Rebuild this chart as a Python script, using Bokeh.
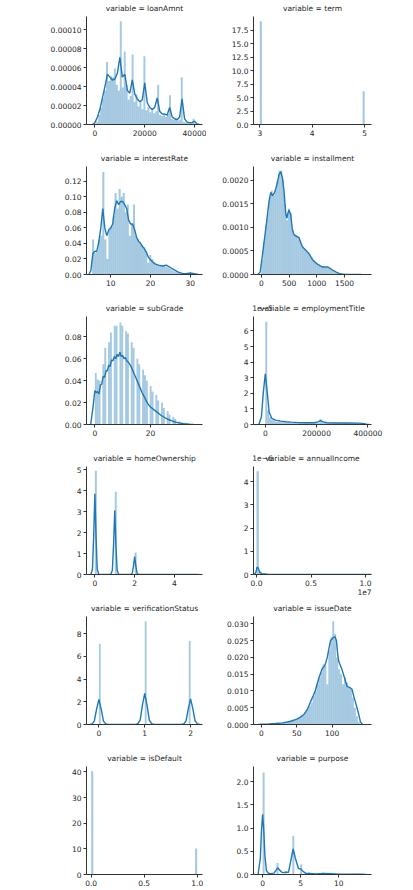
import numpy as np
from bokeh.plotting import figure
from bokeh.models import Range1d, FixedTicker, PrintfTickFormatter, LinearAxis
from bokeh.layouts import column, row
from bokeh.embed import file_html
from bokeh.resources import INLINE

BLUE = "#1f77b4"
FONT = "DejaVu Sans"
INK = "#262626"

# ---------------- loanAmnt (densities in units of 1e-5) ----------------
loan_range = (500, 40000)
loan_hist_e5 = [0.3, 1.0, 1.8, 2.8, 3.6, 6.6, 4.6, 5.1, 5.0, 5.9,
                4.2, 3.6, 10.9, 3.9, 7.7, 4.2, 2.6, 3.0, 7.4, 2.4,
                3.2, 1.9, 2.5, 1.6, 7.2, 1.5, 1.8, 1.3, 1.6, 1.2,
                1.4, 4.2, 1.0, 0.9, 1.2, 0.8, 1.1, 3.1, 0.6, 0.5,
                0.7, 0.4, 0.5, 5.0, 0.3, 0.2, 0.2, 0.2, 0.2, 0.6]
loan_kde_x = [-1000, 0, 1000, 2000, 3000, 4000, 5000, 6000, 7000, 8000, 9000,
              10000, 11000, 12000, 13000, 14000, 15000, 16000, 17000, 18000, 19000,
              20000, 21000, 22000, 23000, 24000, 25000, 26000, 27000, 28000, 29000,
              30000, 31000, 32000, 33000, 34000, 35000, 36000, 37000, 38000, 39000,
              40000, 41000, 42000]
loan_kde_e5 = [0.0, 0.2, 0.8, 1.6, 2.8, 4.0, 5.3, 5.0, 4.7, 4.8, 5.4,
               7.1, 5.0, 5.3, 3.6, 3.3, 4.7, 3.2, 2.7, 2.4, 2.6,
               4.4, 2.3, 1.8, 1.6, 1.8, 2.8, 1.4, 1.1, 1.1, 1.0,
               1.8, 0.8, 0.6, 0.5, 0.8, 2.7, 0.6, 0.25, 0.2, 0.2,
               0.35, 0.05, 0.0]

# ---------------- term ----------------
term_range = (3, 5)
term_values = [3, 5]
term_density = [19.2, 6.2]

# ---------------- interestRate ----------------
rate_range = (5.31, 31.0)
rate_hist = [0.045, 0.028, 0.030, 0.045, 0.050, 0.132, 0.045, 0.020, 0.060, 0.062,
             0.075, 0.105, 0.085, 0.110, 0.100, 0.105, 0.080, 0.090, 0.050, 0.065,
             0.090, 0.050, 0.045, 0.042, 0.038, 0.035, 0.030, 0.015, 0.025, 0.020,
             0.016, 0.013, 0.012, 0.011, 0.012, 0.011, 0.010, 0.009, 0.007, 0.005,
             0.004, 0.003, 0.002, 0.002, 0.0015, 0.001, 0.001, 0.0015, 0.002, 0.001]
rate_kde_x = [4.5, 5, 5.5, 6, 6.5, 7, 7.5, 8, 8.5, 9,
              9.5, 10, 10.5, 11, 11.5, 12, 12.5, 13, 13.5, 14,
              14.5, 15, 15.5, 16, 16.5, 17, 17.5, 18, 18.5, 19,
              19.5, 20, 21, 22, 23, 24, 25, 26, 27, 28, 29, 30, 31, 32]
rate_kde = [0, 0.005, 0.027, 0.030, 0.030, 0.042, 0.060, 0.085, 0.060, 0.050,
            0.057, 0.060, 0.065, 0.085, 0.095, 0.090, 0.094, 0.094, 0.090, 0.085,
            0.070, 0.065, 0.065, 0.058, 0.048, 0.043, 0.040, 0.036, 0.033, 0.028,
            0.022, 0.019, 0.014, 0.012, 0.011, 0.012, 0.009, 0.006, 0.003, 0.0015,
            0.001, 0.002, 0.001, 0]

# ---------------- installment (densities in units of 1e-3) ----------------
inst_range = (0, 1715)
inst_hist_e3 = [0.3, 0.7, 1.05, 1.3, 1.65, 1.78, 1.68, 1.8, 1.98, 2.2,
                2.2, 2.0, 1.5, 1.15, 1.4, 1.3, 0.95, 0.85, 0.83, 0.8,
                0.72, 0.6, 0.56, 0.52, 0.47, 0.42, 0.36, 0.3, 0.26, 0.22,
                0.19, 0.17, 0.16, 0.16, 0.16, 0.13, 0.1, 0.08, 0.05, 0.035,
                0.02, 0.012, 0.008, 0.006, 0.005, 0.004, 0.003, 0.003, 0.002, 0.002]
inst_kde_x = [-60, -20, 20, 60, 100, 140, 170, 200, 230, 260,
              290, 320, 350, 380, 410, 440, 460, 480, 500, 530,
              560, 590, 620, 650, 680, 710, 740, 770, 800, 830,
              860, 890, 920, 960, 1000, 1040, 1080, 1120, 1160, 1200,
              1250, 1300, 1350, 1400, 1450, 1500, 1600, 1700, 1800]
inst_kde_e3 = [0, 0.05, 0.4, 0.78, 1.15, 1.55, 1.74, 1.67, 1.72, 1.81,
               1.95, 2.12, 2.18, 2.06, 1.76, 1.3, 1.19, 1.3, 1.37, 1.27,
               0.95, 0.84, 0.82, 0.8, 0.78, 0.68, 0.59, 0.55, 0.52, 0.48,
               0.44, 0.38, 0.32, 0.27, 0.23, 0.2, 0.17, 0.16, 0.16, 0.16,
               0.12, 0.08, 0.05, 0.025, 0.01, 0.006, 0.003, 0.001, 0]

# ---------------- subGrade ----------------
grade_range = (0, 34)
grade_values = list(range(35))
grade_density = [0.047, 0.041, 0.040, 0.055, 0.070, 0.075, 0.084, 0.090, 0.090, 0.093,
                 0.090, 0.085, 0.083, 0.075, 0.070, 0.060, 0.055, 0.050, 0.045, 0.040,
                 0.035, 0.030, 0.027, 0.022, 0.020, 0.015, 0.012, 0.009, 0.007, 0.005,
                 0.003, 0.002, 0.0015, 0.001, 0.0005]
grade_kde_x = [-1.5, -0.7, 0, 0.5, 1, 1.5, 2, 2.5, 3, 3.5, 4, 4.5, 5, 5.5, 6, 6.5, 7,
               7.5, 8, 8.5, 9, 9.5, 10, 10.5, 11, 11.5, 12, 12.5, 13, 13.5, 14, 15,
               16, 17, 18, 19, 20, 22, 24, 26, 28, 30, 32, 34, 35.5]
grade_kde = [0, 0.015, 0.031, 0.029, 0.030, 0.028, 0.036, 0.037, 0.044, 0.043, 0.049,
             0.049, 0.054, 0.053, 0.059, 0.058, 0.062, 0.060, 0.064, 0.062, 0.066,
             0.062, 0.063, 0.060, 0.061, 0.058, 0.057, 0.055, 0.053, 0.050, 0.047,
             0.041, 0.035, 0.029, 0.024, 0.019, 0.016, 0.012, 0.008, 0.005, 0.003,
             0.0015, 0.0008, 0.0003, 0]

# ---------------- employmentTitle (densities in units of 1e-5) ----------------
emp_range = (0, 378000)
emp_hist_e5 = [6.6, 0.9, 0.45, 0.3, 0.25, 0.2, 0.18, 0.17, 0.16, 0.15,
               0.14, 0.14, 0.13, 0.13, 0.12, 0.12, 0.12, 0.11, 0.11, 0.11,
               0.1, 0.1, 0.1, 0.1, 0.1, 0.1, 0.1, 0.12, 0.35, 0.15,
               0.1, 0.1, 0.1, 0.1, 0.1, 0.1, 0.1, 0.1, 0.1, 0.1,
               0.1, 0.1, 0.09, 0.09, 0.09, 0.09, 0.09, 0.08, 0.08, 0.08]
emp_kde_x = [-25000, -15000, -8000, 0, 8000, 15000, 25000, 40000, 60000, 80000,
             100000, 130000, 160000, 190000, 205000, 215000, 225000, 240000,
             280000, 320000, 360000, 380000, 395000, 405000]
emp_kde_e5 = [0, 0.5, 2.0, 3.25, 2.0, 0.8, 0.4, 0.28, 0.22, 0.18,
              0.15, 0.12, 0.11, 0.11, 0.17, 0.25, 0.17, 0.11,
              0.1, 0.1, 0.09, 0.07, 0.02, 0]

# ---------------- homeOwnership ----------------
home_range = (0, 5)
home_values = [0, 1, 2, 3, 4, 5]
home_density = [4.95, 3.95, 1.05, 0.01, 0.005, 0.003]
home_kde_x = [-0.2, -0.12, -0.06, 0, 0.06, 0.12, 0.2,
              0.8, 0.88, 0.94, 1.0, 1.06, 1.12, 1.2,
              1.8, 1.88, 1.94, 2.0, 2.06, 2.12, 2.2, 5.2]
home_kde = [0, 0.25, 1.8, 3.85, 1.8, 0.25, 0,
            0, 0.2, 1.4, 3.05, 1.4, 0.2, 0,
            0, 0.06, 0.4, 0.85, 0.4, 0.06, 0, 0]

# ---------------- annualIncome (x in 1e7, densities in 1e-6) ----------------
income_range = (0, 1.1)
income_hist_e6 = [4.45, 0.12, 0.03, 0.01, 0.006, 0.004, 0.003, 0.002, 0.002, 0.001,
                  0.001, 0.001, 0.001, 0.001, 0.001, 0.0, 0.0, 0.0, 0.0, 0.0,
                  0.0, 0.0, 0.0, 0.0, 0.0, 0.0, 0.0, 0.0, 0.0, 0.0,
                  0.0, 0.0, 0.0, 0.0, 0.0, 0.0, 0.0, 0.0, 0.0, 0.0,
                  0.0, 0.0, 0.0, 0.0, 0.0, 0.0, 0.0, 0.0, 0.0, 0.0]
income_kde_x = [-0.02, -0.005, 0.005, 0.015, 0.03, 0.05, 0.1, 0.3, 0.6, 1.0, 1.1]
income_kde_e6 = [0, 0.1, 0.32, 0.28, 0.1, 0.03, 0.01, 0.003, 0.001, 0.001, 0]

# ---------------- verificationStatus ----------------
verif_range = (0, 2)
verif_values = [0, 1, 2]
verif_density = [7.1, 9.1, 7.35]
verif_kde_x = [-0.2, -0.15, -0.1, -0.05, 0, 0.05, 0.1, 0.15, 0.2,
               0.8, 0.85, 0.9, 0.95, 1, 1.05, 1.1, 1.15, 1.2,
               1.8, 1.85, 1.9, 1.95, 2, 2.05, 2.1, 2.15, 2.2]
verif_kde = [0, 0.05, 0.3, 1.35, 2.2, 1.35, 0.3, 0.05, 0,
             0, 0.07, 0.38, 1.7, 2.75, 1.7, 0.38, 0.07, 0,
             0, 0.05, 0.3, 1.38, 2.25, 1.38, 0.3, 0.05, 0]

# ---------------- issueDate (densities in units of 1e-3) ----------------
issue_range = (0, 139)
issue_hist_e3 = [0.1, 0.1, 0.15, 0.15, 0.2, 0.25, 0.3, 0.35, 0.4, 0.45,
                 0.55, 0.65, 0.75, 0.85, 1.0, 1.1, 1.3, 1.5, 1.8, 2.1,
                 2.6, 3.0, 3.8, 4.5, 5.5, 6.5, 8.5, 10.0, 12.0, 14.0,
                 15.5, 18.0, 17.5, 12.0, 22.0, 26.0, 30.8, 27.0, 20.0, 16.5,
                 15.0, 12.0, 14.0, 12.5, 11.0, 10.5, 8.0, 5.0, 2.5, 0.8]
issue_kde_x = [-5, 0, 10, 20, 30, 40, 50, 55, 60, 65, 69, 73, 76, 81, 86, 89, 91, 93,
               97.6, 102, 104, 106, 108, 109.5, 114, 118, 121, 125, 128, 131, 133,
               137, 140, 143]
issue_kde_e3 = [0, 0.1, 0.15, 0.3, 0.5, 0.9, 1.6, 2.2, 3.0, 4.5, 6.6, 8.5, 10.0, 13.8,
                16.7, 17.4, 18.5, 20.0, 25.0, 26.0, 26.2, 25.0, 20.5, 18.7, 16.3, 13.5,
                11.4, 11.0, 10.5, 8.0, 6.6, 3.5, 0.8, 0]

# ---------------- isDefault ----------------
default_range = (0, 1)
default_values = [0, 1]
default_density = [40.2, 10.1]

# ---------------- purpose ----------------
purpose_range = (0, 13)
purpose_values = list(range(14))
purpose_density = [2.2, 0.03, 0.25, 0.06, 0.83, 0.22, 0.05, 0.02, 0.04, 0.03,
                   0.015, 0.01, 0.02, 0.01]
purpose_kde_x = [-0.6, -0.3, -0.15, 0, 0.15, 0.3, 0.5, 0.8, 1, 1.5, 1.8, 2, 2.2,
                 2.6, 3, 3.4, 3.7, 4, 4.3, 4.7, 5, 5.3, 5.7, 6, 7, 8, 9, 10, 11,
                 12, 13, 13.6]
purpose_kde = [0, 0.35, 0.95, 1.3, 0.95, 0.4, 0.08, 0.02, 0.02, 0.03, 0.1, 0.15, 0.1,
               0.04, 0.05, 0.05, 0.3, 0.55, 0.35, 0.13, 0.12, 0.07, 0.02, 0.02, 0.01,
               0.02, 0.015, 0.008, 0.005, 0.008, 0.004, 0]

N_BINS = 50


def style_text_axis(ax):
    """An axis used only to carry text in the margin: no line, no ticks."""
    ax.axis_line_color = None
    ax.major_tick_line_color = None
    ax.minor_tick_line_color = None
    ax.major_tick_out = 0
    ax.major_tick_in = 0
    ax.major_label_text_font = FONT
    ax.major_label_text_font_size = "7.5px"
    ax.major_label_text_color = INK


def make_panel(name, col, last_row, xr, yr, xticks, yticks, xfmt, yfmt,
               y_offset_text=None, x_offset_text=None):
    if col == 0:
        width, left, right = 206, 86, 4
    else:
        width, left, right = 207, 47, 42
    frame_w = width - left - right
    height, bottom = (140, 16) if last_row else (150, 26)
    p = figure(width=width, height=height, title=None,
               x_range=Range1d(*xr), y_range=Range1d(*yr),
               output_backend="svg", toolbar_location=None, tools="",
               min_border_left=left, min_border_right=right,
               min_border_top=12, min_border_bottom=bottom)
    p.outline_line_color = None
    p.xgrid.visible = False
    p.ygrid.visible = False
    for ax, ticks, fmt in ((p.xaxis[0], xticks, xfmt), (p.yaxis[0], yticks, yfmt)):
        ax.ticker = FixedTicker(ticks=ticks)
        ax.formatter = PrintfTickFormatter(format=fmt)
        ax.axis_line_color = "#333333"
        ax.axis_line_width = 1
        ax.major_tick_line_color = "#333333"
        ax.major_tick_out = 3
        ax.major_tick_in = 0
        ax.minor_tick_line_color = None
        ax.major_label_text_font = FONT
        ax.major_label_text_font_size = "7.5px"
        ax.major_label_text_color = INK
        ax.major_label_standoff = 2

    # heading (and the scale factor of the y axis) carried by a text-only axis above
    p.extra_x_ranges = {"head": Range1d(0, frame_w)}
    mid = frame_w // 2
    labels = {mid: "variable = " + name}
    if y_offset_text:
        labels[9] = y_offset_text
    head = LinearAxis(x_range_name="head", ticker=FixedTicker(ticks=sorted(labels)),
                      major_label_overrides=labels)
    style_text_axis(head)
    head.major_label_standoff = 4
    p.add_layout(head, "above")

    # scale factor of the x axis, under its tick labels at the right end
    if x_offset_text:
        pos = frame_w - 7
        foot = LinearAxis(x_range_name="head", ticker=FixedTicker(ticks=[pos]),
                          major_label_overrides={pos: x_offset_text})
        style_text_axis(foot)
        foot.major_label_standoff = 0
        p.add_layout(foot, "below")
    return p


def hist_bins(p, rng, heights, scale=1.0):
    edges = np.linspace(rng[0], rng[1], len(heights) + 1)
    p.quad(left=edges[:-1], right=edges[1:], bottom=0,
           top=np.asarray(heights) * scale,
           fill_color=BLUE, fill_alpha=0.4, line_color=None)


def hist_discrete(p, rng, values, density):
    w = (rng[1] - rng[0]) / N_BINS
    v = np.asarray(values, dtype=float)
    idx = np.minimum(np.floor((v - rng[0]) / w + 1e-9), N_BINS - 1)
    lefts = rng[0] + idx * w
    p.quad(left=lefts, right=lefts + w, bottom=0, top=density,
           fill_color=BLUE, fill_alpha=0.4, line_color=None)


def kde(p, xs, ys, scale=1.0):
    p.line(xs, np.asarray(ys) * scale, line_color=BLUE, line_width=1.4)


# row 1
p1 = make_panel("loanAmnt", 0, False, (-3400, 43200), (0, 0.000114),
                [0, 20000, 40000], [0, 2e-5, 4e-5, 6e-5, 8e-5, 1e-4], "%d", "%.5f")
hist_bins(p1, loan_range, loan_hist_e5, 1e-5)
kde(p1, loan_kde_x, loan_kde_e5, 1e-5)

p2 = make_panel("term", 1, False, (2.88, 5.13), (0, 20.1),
                [3, 4, 5], [0, 2.5, 5, 7.5, 10, 12.5, 15, 17.5], "%d", "%.1f")
hist_discrete(p2, term_range, term_values, term_density)

# row 2
p3 = make_panel("interestRate", 0, False, (3.9, 33.1), (0, 0.139),
                [10, 20, 30], [0, 0.02, 0.04, 0.06, 0.08, 0.10, 0.12], "%d", "%.2f")
hist_bins(p3, rate_range, rate_hist)
kde(p3, rate_kde_x, rate_kde)

p4 = make_panel("installment", 1, False, (-140, 1985), (0, 0.00229),
                [0, 500, 1000, 1500], [0, 0.0005, 0.001, 0.0015, 0.002], "%d", "%.4f")
hist_bins(p4, inst_range, inst_hist_e3, 1e-3)
kde(p4, inst_kde_x, inst_kde_e3, 1e-3)

# row 3
p5 = make_panel("subGrade", 0, False, (-3.0, 38.7), (0, 0.0985),
                [0, 20], [0, 0.02, 0.04, 0.06, 0.08], "%d", "%.2f")
hist_discrete(p5, grade_range, grade_values, grade_density)
kde(p5, grade_kde_x, grade_kde)

p6 = make_panel("employmentTitle", 1, False, (-46000, 414000), (0, 6.93),
                [0, 200000, 400000], [0, 1, 2, 3, 4, 5, 6], "%d", "%d",
                y_offset_text="1e\u22125")
hist_bins(p6, emp_range, emp_hist_e5)
kde(p6, emp_kde_x, emp_kde_e5)

# row 4
p7 = make_panel("homeOwnership", 0, False, (-0.42, 5.41), (0, 5.15),
                [0, 2, 4], [0, 1, 2, 3, 4, 5], "%d", "%d")
hist_discrete(p7, home_range, home_values, home_density)
kde(p7, home_kde_x, home_kde)

p8 = make_panel("annualIncome", 1, False, (-0.0275, 1.055), (0, 4.66),
                [0, 0.5, 1.0], [0, 1, 2, 3, 4], "%.1f", "%d",
                y_offset_text="1e\u22126", x_offset_text="1e7")
hist_bins(p8, income_range, income_hist_e6)
kde(p8, income_kde_x, income_kde_e6)

# row 5
p9 = make_panel("verificationStatus", 0, False, (-0.27, 2.26), (0, 9.51),
                [0, 1, 2], [0, 2, 4, 6, 8], "%d", "%d")
hist_discrete(p9, verif_range, verif_values, verif_density)
kde(p9, verif_kde_x, verif_kde)

p10 = make_panel("issueDate", 1, False, (-11.3, 155.6), (0, 0.0322),
                 [0, 50, 100], [0, 0.005, 0.01, 0.015, 0.02, 0.025, 0.03], "%d", "%.3f")
hist_bins(p10, issue_range, issue_hist_e3, 1e-3)
kde(p10, issue_kde_x, issue_kde_e3, 1e-3)

# row 6
p11 = make_panel("isDefault", 0, True, (-0.044, 1.05), (0, 42.1),
                 [0, 0.5, 1.0], [0, 10, 20, 30, 40], "%.1f", "%d")
hist_discrete(p11, default_range, default_values, default_density)

p12 = make_panel("purpose", 1, True, (-1.2, 14.3), (0, 2.33),
                 [0, 5, 10], [0, 0.5, 1.0, 1.5, 2.0], "%d", "%.1f")
hist_discrete(p12, purpose_range, purpose_values, purpose_density)
kde(p12, purpose_kde_x, purpose_kde)

layout = column(row(p1, p2), row(p3, p4), row(p5, p6),
                row(p7, p8), row(p9, p10), row(p11, p12))

with open("out.html", "w") as f:
    f.write(file_html(layout, INLINE))
